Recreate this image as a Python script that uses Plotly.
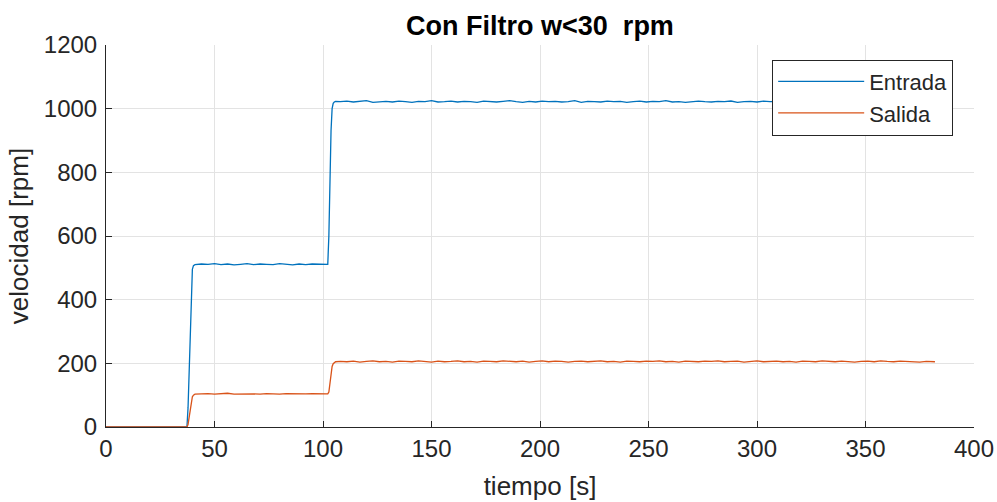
import plotly.graph_objects as go

# time samples [s]
tiempo = [0, 10, 20, 30, 37.3,
          37.8, 38.3, 38.8, 39.3, 39.8, 40.3,
          41, 44, 47, 50, 53, 56, 59, 62, 65, 68, 71, 74, 77, 80, 83, 86, 89, 92, 95, 98, 101, 102.2,
          102.7, 103.2, 103.7, 104.2, 104.7, 105.2, 105.8,
          108, 111, 114, 117, 120, 123, 126, 129, 132, 135, 138, 141, 144, 147, 150, 153, 156, 159,
          162, 165, 168, 171, 174, 177, 180, 183, 186, 189, 192, 195, 198, 201, 204, 207, 210, 213,
          216, 219, 222, 225, 228, 231, 234, 237, 240, 243, 246, 249, 252, 255, 258, 261, 264, 267,
          270, 273, 276, 279, 282, 285, 288, 291, 294, 297, 300, 303, 306, 309, 312, 315, 318, 321,
          324, 327, 330, 333, 336, 339, 342, 345, 348, 351, 354, 357, 360, 363, 366, 369, 372, 375,
          378, 381, 382]

entrada = [0, 0, 0, 0, 0,
           60, 180, 320, 440, 495, 507,
           510, 512, 511, 513, 510, 512, 509, 511, 513, 510, 512, 511, 510, 513, 511, 509, 512, 510, 512, 511, 510, 511,
           600, 780, 930, 1000, 1017, 1021, 1023,
           1022, 1024, 1021, 1023, 1025, 1020, 1022, 1023, 1021, 1024, 1022, 1020, 1023, 1022, 1025, 1021,
           1022, 1024, 1021, 1023, 1022, 1020, 1024, 1022, 1021, 1023, 1025, 1022, 1020, 1023, 1021, 1024,
           1022, 1023, 1021, 1022, 1025, 1020, 1023, 1022, 1021, 1024, 1022, 1023, 1020, 1022, 1024, 1021,
           1023, 1022, 1025, 1021, 1022, 1020, 1023, 1024, 1022, 1021, 1023, 1022, 1024, 1020, 1022, 1023,
           1021, 1024, 1022, 1023, 1021, 1022, 1025, 1022, 1020, 1023, 1022, 1021, 1024, 1022, 1023, 1021,
           1022, 1024, 1021, 1023, 1022, 1021]

salida = [0, 0, 0, 0, 0,
          8, 30, 60, 82, 95, 100,
          103, 104, 105, 103, 104, 106, 103, 104, 105, 104, 103, 105, 104, 103, 105, 104, 103, 104, 105, 104, 103, 104,
          110, 140, 170, 190, 199, 203, 205,
          206, 205, 207, 204, 206, 208, 205, 206, 204, 207, 206, 205, 208, 206, 204, 207, 205, 206,
          208, 205, 206, 204, 207, 206, 205, 208, 206, 205, 207, 204, 206, 208, 205, 207, 206, 204,
          206, 207, 205, 206, 208, 205, 206, 204, 207, 206, 205, 207, 206, 208, 205, 206, 204, 207,
          206, 205, 207, 206, 208, 205, 206, 207, 204, 206, 208, 205, 206, 207, 205, 206, 204, 207,
          206, 205, 208, 206, 205, 207, 206, 204, 206, 207, 205, 208, 206, 205, 207, 206, 205, 204,
          206, 205, 205]

x_ticks = [0, 50, 100, 150, 200, 250, 300, 350, 400]
y_ticks = [0, 200, 400, 600, 800, 1000, 1200]

FONT = "Liberation Sans, Arial, sans-serif"
AX = "#262626"

fig = go.Figure()
fig.add_trace(go.Scatter(x=tiempo, y=entrada, mode="lines", name="Entrada",
                         line=dict(color="#0072BD", width=1.3)))
fig.add_trace(go.Scatter(x=tiempo, y=salida, mode="lines", name="Salida",
                         line=dict(color="#D95319", width=1.3)))

axis_common = dict(showline=True, linecolor=AX, linewidth=1, ticks="inside", ticklen=6,
                   tickcolor=AX, tickwidth=1, showgrid=True, gridcolor="#e3e3e3", gridwidth=1,
                   zeroline=False, automargin=False,
                   tickfont=dict(family=FONT, size=24, color=AX),
                   title_font=dict(family=FONT, size=26, color=AX))

fig.update_xaxes(range=[0, 400], tickvals=x_ticks, title_text="tiempo [s]",
                 title_standoff=16, ticklabelstandoff=0, **axis_common)
fig.update_yaxes(range=[0, 1200], tickvals=y_ticks, title_text="velocidad [rpm]",
                 title_standoff=7, ticklabelstandoff=3, **axis_common)

fig.update_layout(
    width=997, height=502,
    margin=dict(l=106, r=23, t=45, b=75),
    paper_bgcolor="white", plot_bgcolor="white",
    title=dict(text="<b>Con Filtro w&lt;30\u00a0 rpm</b>", x=0.5, xref="paper", xanchor="center",
               y=1 - 26 / 502, yanchor="middle",
               font=dict(family=FONT, size=27, color="black")),
    legend=dict(x=0.976, xanchor="right", y=0.962, yanchor="top",
                bgcolor="white", bordercolor=AX, borderwidth=1,
                font=dict(family=FONT, size=22, color=AX),
                itemwidth=86, tracegroupgap=0),
    showlegend=True,
)

fig.write_html("out.html")
